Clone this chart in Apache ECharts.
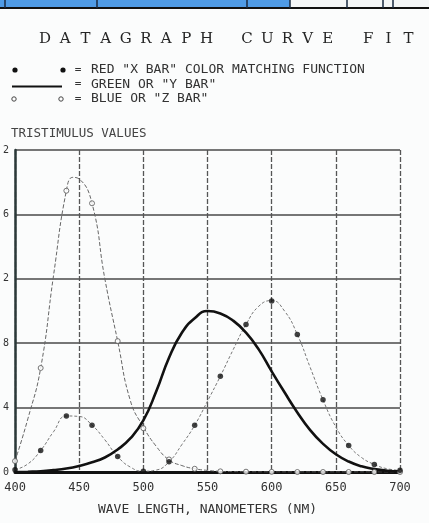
<!DOCTYPE html>
<html>
<head>
<meta charset="utf-8">
<script src="https://cdn.jsdelivr.net/npm/echarts@6/dist/echarts.min.js"></script>
<style>
html,body{margin:0;padding:0;background:#fbfcfc;}
#chart{width:429px;height:523px;}
</style>
</head>
<body>
<div id="chart"></div>
<script>
// ---- data ----
var titleText = 'D A T A G R A P H   C U R V E   F I T';
var legendTexts = ['RED "X BAR" COLOR MATCHING FUNCTION', 'GREEN OR "Y BAR"', 'BLUE OR "Z BAR"'];
var yAxisTitle = 'TRISTIMULUS VALUES';
var xAxisTitle = 'WAVE LENGTH, NANOMETERS (NM)';
var yTickLabels = ['0', '4', '8', '2', '6', '2'];

// curve (line) readings, wavelength in nm
var curveNmX = [400,410,420,430,440,450,460,470,480,490,500,510,520,530,540,550,560,570,580,590,600,610,620,630,640,650,660,670,680,690,700];
var xBarCurve = [0.014,0.05,0.134,0.25,0.348,0.345,0.291,0.2,0.096,0.03,0.005,0.012,0.063,0.17,0.29,0.44,0.595,0.76,0.916,1.03,1.065,1.0,0.854,0.65,0.448,0.28,0.165,0.09,0.047,0.02,0.011];
var curveNmY = [400,410,420,430,440,450,460,470,480,490,500,510,520,530,540,550,560,570,580,590,600,610,620,630,640,650,660,670,680,690,700];
var yBarCurve = [0.0,0.002,0.005,0.012,0.022,0.038,0.06,0.09,0.14,0.21,0.32,0.5,0.71,0.865,0.955,1.0,0.985,0.94,0.865,0.76,0.625,0.495,0.37,0.26,0.175,0.11,0.065,0.035,0.018,0.008,0.004];
var curveNmZ = [400,410,420,430,440,445,450,460,470,480,490,500,510,520,530,540,550,560,570,580,600,620,640,660,680,700];
var zBarCurve = [0.068,0.33,0.646,1.22,1.747,1.83,1.82,1.669,1.2,0.813,0.44,0.28,0.16,0.075,0.04,0.02,0.01,0.004,0.002,0.001,0.0,0.0,0.0,0.0,0.0,0.0];

// marker readings every 20 nm
var markNm = [400,420,440,460,480,500,520,540,560,580,600,620,640,660,680,700];
var xBarPoints = [0.014,0.134,0.348,0.291,0.096,0.005,0.063,0.29,0.595,0.916,1.062,0.854,0.448,0.165,0.047,0.011];
var zBarPoints = [0.068,0.646,1.747,1.669,0.813,0.272,0.078,0.02,0.004,0.002,0.001,0.0,0.0,0.0,0.0,0.0];

function pairs(xs, ys){ return xs.map(function(x,i){ return [x, ys[i]]; }); }

var chart = echarts.init(document.getElementById('chart'), null, {renderer:'canvas'});

var mono = '"DejaVu Sans Mono", "Liberation Mono", monospace';
var ink = '#333';

var g = [];
g.push({type:'rect', shape:{x:0,y:0,width:290,height:7}, style:{fill:'#4f9be6'}, silent:true});
g.push({type:'rect', shape:{x:290,y:0,width:139,height:7}, style:{fill:'#f4f6f7'}, silent:true});
g.push({type:'line', shape:{x1:0,y1:8,x2:429,y2:8}, style:{stroke:'#111',lineWidth:2}, silent:true});
[5,97,247,290,347,383,393].forEach(function(x){
  g.push({type:'line', shape:{x1:x,y1:0,x2:x,y2:8}, style:{stroke:'#1a2a40',lineWidth:1.5}, silent:true});
});
for (var i=0;i<titleText.length;i++){
  var ch = titleText.charAt(i);
  if (ch === ' ') continue;
  g.push({type:'text', x:45 + i*10.1, y:39, silent:true,
    style:{text:ch, fill:'#252525', font:'15px "DejaVu Serif", "Liberation Serif", serif', textAlign:'center', textVerticalAlign:'middle'}});
}
var rowY = [70, 84.5, 99];
g.push({type:'circle', shape:{cx:15,cy:rowY[0],r:2.6}, style:{fill:'#111'}, silent:true});
g.push({type:'circle', shape:{cx:63,cy:rowY[0],r:2.6}, style:{fill:'#111'}, silent:true});
g.push({type:'line', shape:{x1:12,y1:rowY[1]+2,x2:62,y2:rowY[1]+2}, style:{stroke:'#111',lineWidth:2.2}, silent:true});
g.push({type:'circle', shape:{cx:14,cy:rowY[2],r:2.2}, style:{fill:'#fff',stroke:'#444',lineWidth:1}, silent:true});
g.push({type:'circle', shape:{cx:61,cy:rowY[2],r:2.2}, style:{fill:'#fff',stroke:'#444',lineWidth:1}, silent:true});
for (var r=0;r<3;r++){
  g.push({type:'text', x:78, y:rowY[r], silent:true,
    style:{text:'=', fill:ink, font:'11px '+mono, textAlign:'center', textVerticalAlign:'middle'}});
  g.push({type:'text', x:91, y:rowY[r], silent:true,
    style:{text:legendTexts[r], fill:ink, font:'13px '+mono, textAlign:'left', textVerticalAlign:'middle'}});
}
g.push({type:'text', x:11, y:134, silent:true,
  style:{text:yAxisTitle, fill:'#444', font:'12.5px '+mono, textAlign:'left', textVerticalAlign:'middle'}});

var option = {
  backgroundColor:'#fbfcfc',
  animation:false,
  grid:{left:14, right:29, top:150, bottom:51, containLabel:false},
  xAxis:{
    type:'value', min:400, max:700, interval:50,
    name:xAxisTitle, nameLocation:'middle', nameGap:31,
    nameTextStyle:{color:ink, fontFamily:mono, fontSize:13},
    axisLine:{show:true, onZero:false, lineStyle:{color:'#111', width:3}},
    axisTick:{show:false},
    axisLabel:{color:ink, fontFamily:mono, fontSize:12, margin:10},
    splitLine:{show:true, lineStyle:{color:'#555', width:1.3, type:[5,2]}}
  },
  yAxis:{
    type:'value', min:0, max:2, interval:0.4,
    axisLine:{show:true, lineStyle:{color:'#2b3838', width:2.5}},
    axisTick:{show:false},
    axisLabel:{color:ink, fontFamily:mono, fontSize:10, margin:6,
      formatter:function(v){ return yTickLabels[Math.round(v/0.4)]; }},
    splitLine:{show:true, lineStyle:{color:'#4a4a4a', width:1.5}}
  },
  series:[
    {type:'line', name:'Y BAR', data:pairs(curveNmY, yBarCurve), smooth:0.5, showSymbol:false, clip:true,
      lineStyle:{color:'#111', width:2.6}, z:3},
    {type:'line', name:'X BAR curve', data:pairs(curveNmX, xBarCurve), smooth:0.5, showSymbol:false, clip:true,
      lineStyle:{color:'#777', width:1, type:[3,2]}, z:2},
    {type:'line', name:'Z BAR curve', data:pairs(curveNmZ, zBarCurve), smooth:0.5, showSymbol:false, clip:true,
      lineStyle:{color:'#666', width:1, type:[4,2]}, z:2},
    {type:'scatter', name:'Z BAR', data:pairs(markNm, zBarPoints), symbol:'circle', symbolSize:5,
      itemStyle:{color:'#fff', borderColor:'#555', borderWidth:1}, z:4},
    {type:'scatter', name:'X BAR', data:pairs(markNm, xBarPoints), symbol:'circle', symbolSize:5.5,
      itemStyle:{color:'#111'}, z:5}
  ],
  graphic:g
};
chart.setOption(option);
</script>
</body>
</html>
